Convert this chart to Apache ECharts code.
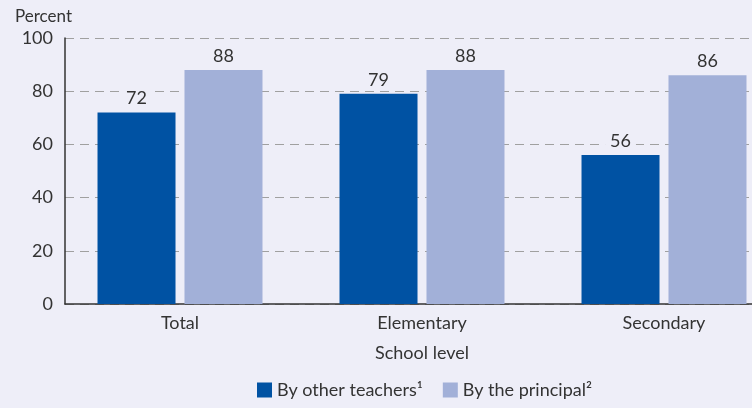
<!DOCTYPE html>
<html><head><meta charset="utf-8">
<script src="https://cdn.jsdelivr.net/npm/echarts@6/dist/echarts.min.js"></script>
<style>html,body{margin:0;padding:0;background:#eeeef8}#c{width:752px;height:408px}</style>
</head><body><div id="c"></div>
<script>
const categories = ['Total', 'Elementary', 'Secondary'];
const otherTeachers = [72, 79, 56];
const principal = [88, 88, 86];
const seriesNames = ['By other teachers\u00b9', 'By the principal\u00b2'];
const yTicks = [0, 20, 40, 60, 80, 100];

const font = 'Lato, "Open Sans", sans-serif';
const txt = '#333';
const bg = '#eeeef8';
const chart = echarts.init(document.getElementById('c'));
const labelCfg = {
  show: true, position: 'top', distance: 5, color: txt, fontSize: 18, fontFamily: font,
  backgroundColor: bg, padding: [0, 5]
};
const yMin = yTicks[0], yMax = yTicks[yTicks.length - 1];
chart.setOption({
  backgroundColor: bg,
  animation: false,
  grid: [
    { left: 65, right: 0, top: 38, bottom: 104, outerBoundsMode: 'none', containLabel: false },
    { left: 59, width: 726, top: 38, bottom: 104, outerBoundsMode: 'none', containLabel: false }
  ],
  title: { text: 'Percent', left: 10, top: 3, textStyle: { fontSize: 17, fontWeight: 'normal', color: txt, fontFamily: font } },
  legend: {
    bottom: 4, left: 252, itemWidth: 15, itemHeight: 15, itemGap: 20,
    icon: 'rect', textStyle: { fontSize: 18, color: txt, fontFamily: font },
    data: seriesNames
  },
  xAxis: [
    { gridIndex: 0, type: 'value', min: 0, max: 1, show: true,
      axisLine: { show: true, lineStyle: { color: '#333', width: 1.5 } },
      axisTick: { show: false }, axisLabel: { show: false }, splitLine: { show: false } },
    { gridIndex: 1, type: 'category', data: categories,
      name: 'School level', nameLocation: 'middle', nameGap: 40,
      nameTextStyle: { fontSize: 18, color: txt, fontFamily: font },
      axisLine: { show: false },
      axisTick: { show: false },
      axisLabel: { fontSize: 18, color: txt, fontFamily: font, margin: 10 } }
  ],
  yAxis: [
    { gridIndex: 0, type: 'value', min: yMin, max: yMax, interval: 20,
      axisLine: { show: true, lineStyle: { color: '#333', width: 1.5 } },
      axisTick: { show: false },
      axisLabel: { fontSize: 18, color: txt, fontFamily: font, margin: 12 },
      splitLine: { lineStyle: { color: '#a0a0a0', type: [9, 6], width: 1 } } },
    { gridIndex: 1, type: 'value', min: yMin, max: yMax, interval: 20, show: false,
      splitLine: { show: false } }
  ],
  series: [
    { name: seriesNames[0], type: 'bar', xAxisIndex: 1, yAxisIndex: 1, data: otherTeachers,
      barWidth: 78, barGap: '11.5%', itemStyle: { color: '#0052a3' }, label: labelCfg },
    { name: seriesNames[1], type: 'bar', xAxisIndex: 1, yAxisIndex: 1, data: principal,
      barWidth: 78, itemStyle: { color: '#a2b0d8' }, label: labelCfg }
  ]
});
</script></body></html>
